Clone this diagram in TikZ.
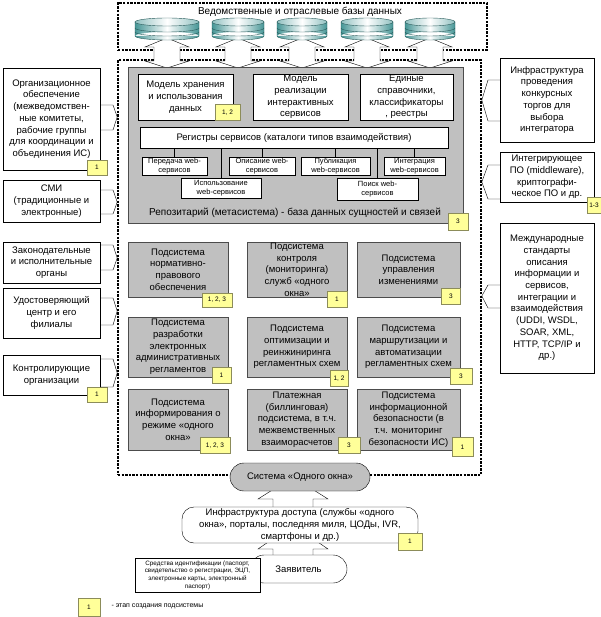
\documentclass[tikz,border=0pt]{standalone}
\usepackage{fontspec}
\setmainfont{Liberation Sans}
\usetikzlibrary{arrows.meta}
\usetikzlibrary{backgrounds}
\definecolor{silverfill}{RGB}{192,192,192}
\definecolor{badgefill}{RGB}{255,255,153}
\definecolor{badgeline}{RGB}{140,140,90}
\definecolor{dbteal}{RGB}{70,150,150}
\definecolor{dbedge}{RGB}{40,90,90}

\begin{document}
\begin{tikzpicture}[x=1pt, y=-1pt, >=Stealth,
        box/.style={draw, fill=white, align=center, inner sep=0pt,
            font=\fontsize{9.5}{11.7}\selectfont},
        subsys/.style={box, fill=silverfill, draw=black!70},
        webbox/.style={draw, fill=white, align=center, inner sep=0pt,
            font=\fontsize{7.5}{9}\selectfont},
        badge/.style={draw=badgeline, fill=badgefill, inner sep=0pt,
            minimum width=20, minimum height=16, font=\fontsize{6.5}{7}\selectfont},
        frame/.style={draw, line width=1.6pt, dash pattern=on 2.4pt off 1.2pt},
        pointer/.style={draw, line join=miter},
        blockarrow/.style={draw, fill=white}]
    \useasboundingbox (0,0) rectangle (600,617);

    % dashed frames
    \node[frame, minimum width=369, minimum height=47] (dbs) at (302.5,26.5) {};
    \node[frame, minimum width=363, minimum height=415] (sys) at (299.5,267.5) {};
    \node[font=\fontsize{10}{12}\selectfont] (dbtitle) at (300,12)
        {Ведомственные и отраслевые базы данных};

    \foreach \x in {167,238,302,367,430}
        \draw[blockarrow] (\x,38) -- (\x+22,47) -- (\x+13,47) -- (\x+13,61)
            -- (\x+22,61) -- (\x,68) -- (\x-22,61) -- (\x-13,61)
            -- (\x-13,47) -- (\x-22,47) -- cycle;

    % databases
    \foreach \x/\r in {167/32,238/26,302/25,367/26,430/25} {
        \shade[left color=dbteal, right color=dbteal, middle color=white]
            (\x-\r,22) rectangle (\x+\r,36) (\x,36) ellipse [x radius=\r, y radius=4];
        \draw[dbedge] (\x-\r,22) -- (\x-\r,36)
            arc [start angle=180, end angle=0, x radius=\r, y radius=4] -- (\x+\r,22);
        \draw[dbedge] (\x-\r,28) arc [start angle=180, end angle=0, x radius=\r, y radius=4];
        \draw[dbedge] (\x-\r,32) arc [start angle=180, end angle=0, x radius=\r, y radius=4];
        \shadedraw[draw=dbedge, left color=dbteal!60, right color=dbteal!60, middle color=white]
            (\x,22) ellipse [x radius=\r, y radius=4];
    }

    % repository
    \node[draw=black!70, fill=silverfill, minimum width=335, minimum height=156] (repo) at (295.5,145) {};
    \node[box, minimum width=95, minimum height=46] (mdata) at (185.5,97)
        {Модель хранения\\и использования\\данных};
    \node[box, minimum width=95, minimum height=46] (mserv) at (300.5,97)
        {Модель\\реализации\\интерактивных\\сервисов};
    \node[box, minimum width=93, minimum height=46] (refs) at (406.5,97)
        {Единые\\справочники,\\классификаторы\\, реестры};
    \node[box, minimum width=308, minimum height=21] (reg) at (294,137.5)
        {Регистры сервисов (каталоги типов взаимодействия)};

    \node[webbox, minimum width=65, minimum height=18] (wtrans) at (174.5,166) {Передача web-\\сервисов};
    \node[webbox, minimum width=66, minimum height=18] (wdesc) at (262,166) {Описание web-\\сервисов};
    \node[webbox, minimum width=69, minimum height=18] (wpub) at (335.5,166) {Публикация\\web-сервисов};
    \node[webbox, minimum width=61, minimum height=18] (wint) at (414.5,166) {Интеграция\\web-сервисов};
    \node[webbox, minimum width=80, minimum height=20] (wuse) at (221,188) {Использование\\web-сервисов};
    \node[webbox, minimum width=81, minimum height=22] (wfind) at (377.5,189) {Поиск web-\\сервисов};
    \foreach \w in {wtrans,wdesc,wpub,wint,wuse,wfind}
        \draw (reg.south -| \w.north) -- (\w.north);

    \node[font=\fontsize{10}{12}\selectfont] (repolabel) at (295,213)
        {Репозитарий (метасистема) - база данных сущностей и связей};
    \node[badge, minimum width=25] (b mdata) at (227.5,112.5) {1, 2};
    \node[badge, minimum height=17] (b repo) at (458,221.5) {3};

    % subsystems
    \node[subsys, minimum width=100, minimum height=55] (norm) at (178,269.5)
        {Подсистема\\нормативно-\\правового\\обеспечения};
    \node[subsys, minimum width=100, minimum height=55] (monit) at (297,269.5)
        {Подсистема\\контроля\\(мониторинга)\\служб «одного\\окна»};
    \node[subsys, minimum width=103, minimum height=55] (change) at (408.5,269.5)
        {Подсистема\\управления\\изменениями};
    \node[subsys, minimum width=100, minimum height=60] (regl) at (178,347)
        {Подсистема\\разработки\\электронных\\административных\\регламентов};
    \node[subsys, minimum width=100, minimum height=60] (optim) at (297,347)
        {Подсистема\\оптимизации и\\реинжиниринга\\регламентных схем};
    \node[subsys, minimum width=103, minimum height=60] (route) at (408.5,347)
        {Подсистема\\маршрутизации и\\автоматизации\\регламентных схем};
    \node[subsys, minimum width=100, minimum height=61] (inform) at (178,419.5)
        {Подсистема\\информирования о\\режиме «одного\\окна»};
    \node[subsys, minimum width=100, minimum height=61] (bill) at (297,419.5)
        {Платежная\\(биллинговая)\\подсистема, в т.ч.\\межвемственных\\взаиморасчетов};
    \node[subsys, minimum width=103, minimum height=61] (secur) at (408.5,419.5)
        {Подсистема\\информационной\\безопасности (в\\т.ч. мониторинг\\безопасности ИС)};

    \node[badge, minimum width=30, minimum height=14] (b norm) at (217,300) {1, 2, 3};
    \node[badge] (b monit) at (337,299) {1};
    \node[badge, minimum width=19] (b change) at (451,296.5) {3};
    \node[badge, minimum width=19] (b regl) at (221.5,375.5) {1};
    \node[badge, minimum width=18] (b optim) at (339,378.5) {1, 2};
    \node[badge, minimum width=22] (b route) at (461,376) {3};
    \node[badge, minimum width=30] (b inform) at (215,445.5) {1, 2, 3};
    \node[badge, minimum width=22] (b bill) at (349,445.5) {3};
    \node[badge, minimum width=21, minimum height=19] (b secur) at (462.5,447) {1};

    % left side
    \node[box, minimum width=97, minimum height=102] (org) at (51.5,119)
        {Организационное\\обеспечение\\(межведомствен-\\ные комитеты,\\рабочие группы\\для координации и\\объединения ИС)};
    \node[box, minimum width=97, minimum height=42] (media) at (51.5,201)
        {СМИ\\(традиционные и\\электронные)};
    \node[box, minimum width=97, minimum height=41] (law) at (51.5,262.5)
        {Законодательные\\и исполнительные\\органы};
    \node[box, minimum width=97, minimum height=50] (cert) at (51.5,313)
        {Удостоверяющий\\центр и его\\филиалы};
    \node[box, minimum width=97, minimum height=40] (audit) at (51.5,375)
        {Контролирующие\\организации};
    \node[badge, minimum height=15] (b org) at (97,167.5) {1};
    \node[badge, minimum height=15] (b audit) at (97,394.5) {1};

    \draw[pointer] (org.east |- 0,105) -- (113,105) -- (sys.west |- 0,117) -- (113,130) -- (org.east |- 0,130);
    \draw[pointer] (media.east |- 0,190) -- (113,190) -- (sys.west |- 0,202) -- (113,214) -- (media.east |- 0,214);
    \draw[pointer] (law.east |- 0,245) -- (113,245) -- (sys.west |- 0,258) -- (113,270) -- (law.east |- 0,270);
    \draw[pointer] (cert.east |- 0,298) -- (113,298) -- (sys.west |- 0,311) -- (113,325) -- (cert.east |- 0,325);
    \draw[pointer] (audit.east |- 0,359) -- (113,359) -- (sys.west |- 0,373) -- (113,387) -- (audit.east |- 0,387);

    % right side
    \node[box, minimum width=94, minimum height=84] (tender) at (547,100)
        {Инфраструктура\\проведения\\конкурсных\\торгов для\\выбора\\интегратора};
    \node[box, minimum width=94, minimum height=50] (midware) at (547,177)
        {Интегрирующее\\ПО (middleware),\\криптографи-\\ческое ПО и др.};
    \node[box, minimum width=94, minimum height=150] (stand) at (547,298)
        {Международные\\стандарты\\описания\\информации и\\сервисов,\\интеграции и\\взаимодействия\\(UDDI, WSDL,\\SOAR, XML,\\HTTP, TCP/IP и\\др.)};
    \node[badge, minimum width=14] (b midware) at (594,205) {1-3};

    \draw[pointer] (tender.west |- 0,80) -- (488,80) -- (sys.east |- 0,100) -- (488,121) -- (tender.west |- 0,121);
    \draw[pointer] (midware.west |- 0,165) -- (488,165) -- (sys.east |- 0,182) -- (488,199) -- (midware.west |- 0,199);
    \draw[pointer] (stand.west |- 0,285) -- (488,285) -- (sys.east |- 0,296) -- (488,308) -- (stand.west |- 0,308);

    % access chain
    \node[draw, fill=silverfill, rounded corners=14, minimum width=140, minimum height=28,
        font=\fontsize{9.5}{11.7}\selectfont] (one) at (300,477) {Система «Одного окна»};
    \node[box, rounded corners=12, minimum width=236, minimum height=36] (access) at (300,525)
        {Инфраструктура доступа (службы «одного\\окна», порталы, последняя миля, ЦОДы, IVR,\\смартфоны и др.)};
    \node[badge, minimum width=24, minimum height=17] (b access) at (410,541.5) {1};
    \node[box, rounded corners=14, minimum width=97, minimum height=28] (applicant) at (298.5,569)
        {Заявитель};
    \node[box, minimum width=125, minimum height=34, font=\fontsize{6.3}{7.6}\selectfont] (ident) at (197.5,575)
        {Средства идентификации (паспорт,\\свидетельство о регистрации, ЭЦП,\\электронные карты, электронный\\паспорт)};

    \begin{scope}[on background layer]
        \draw[blockarrow] ([xshift=-7pt]one.center) -- +(35,22) -- +(20,22) -- +(20,35)
            -- +(-20,35) -- +(-20,22) -- +(-35,22) -- cycle;
        \draw[blockarrow] ([xshift=-7pt]access.center) -- +(35,24) -- +(20,24) -- +(20,37)
            -- +(-20,37) -- +(-20,24) -- +(-35,24) -- cycle;
    \end{scope}

    % legend
    \node[badge, minimum width=22, minimum height=18] (key) at (89,607) {1};
    \node[anchor=west, font=\fontsize{7}{8}\selectfont] (keytext) at (108,606) {- этап создания подсистемы};
\end{tikzpicture}
\end{document}
